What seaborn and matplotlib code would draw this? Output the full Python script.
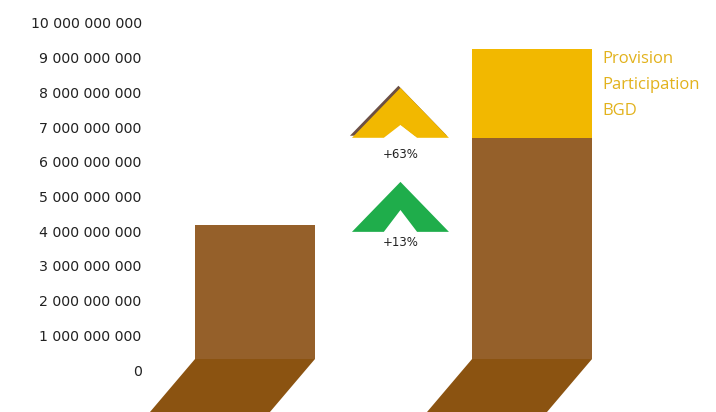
import matplotlib
matplotlib.use("Agg")
import matplotlib.pyplot as plt
import seaborn as sns
import pandas as pd
from matplotlib.patches import Polygon, Rectangle

# ---- data ----
categories = ["Avant", "Après"]
base_values = [4.18e9, 6.69e9]
provision_values = [0.0, 2.56e9]
tick_values = [i * 1e9 for i in range(11)]
tick_labels = ["0", "1 000 000 000", "2 000 000 000", "3 000 000 000", "4 000 000 000",
               "5 000 000 000", "6 000 000 000", "7 000 000 000", "8 000 000 000",
               "9 000 000 000", "10 000 000 000"]
growth_labels = ["+63%", "+13%"]
provision_label = "Provision\nParticipation\nBGD"

BROWN = "#95602a"
FLOOR = "#8b5311"
YELLOW = "#f2b800"
GREEN = "#1fad4b"
LABEL_YELLOW = "#e2b21c"

sns.set_theme(style="white")
plt.rcParams["font.family"] = ["DejaVu Sans"]

df = pd.DataFrame({"cat": categories,
                   "base": base_values,
                   "total": [b + p for b, p in zip(base_values, provision_values)]})

fig = plt.figure(figsize=(7.16, 4.12), dpi=100)
ax = fig.add_axes([150 / 716, 0, (716 - 150) / 716, 1])

sns.barplot(data=df, x="cat", y="total", color=YELLOW, width=0.433, ax=ax,
            saturation=1, order=categories)
sns.barplot(data=df, x="cat", y="base", color=BROWN, width=0.433, ax=ax,
            saturation=1, order=categories)

ax.set_xlim(-0.379, 1.664)
ax.set_ylim(-1.21e9, 10.66e9)
ax.set_yticks(tick_values)
ax.set_yticklabels(tick_labels, fontsize=10.2, color="#222222")
ax.tick_params(axis="y", length=0, pad=6)
ax.set_xticks([])
ax.set_xlabel("")
ax.set_ylabel("")
for s in ax.spines.values():
    s.set_visible(False)

px_x = 1 / 277.0          # data units per pixel (x)
px_y = 1e9 / 34.7         # data units per pixel (y)
top_px = 11
drop_px = 80
slope = 0.85

bar_patches = list(ax.patches)
for p in bar_patches:
    p.set_linewidth(0)
    clip = Rectangle((-5, top_px * px_y), 10, 50e9, transform=ax.transData)
    p.set_clip_path(clip)

# floor parallelograms under each bar (derived from bar geometry)
for p in bar_patches[len(categories):]:
    x0 = p.get_x()
    w = p.get_width()
    y0 = top_px * px_y
    y1 = y0 - drop_px * px_y
    dx = drop_px * slope * px_x
    poly = Polygon([(x0, y0), (x0 + w, y0), (x0 + w - dx, y1), (x0 - dx, y1)],
                   closed=True, facecolor=FLOOR, edgecolor="none", zorder=3)
    ax.add_patch(poly)


def chevron(xc, apex, bottom, notch, half_w, inner_half, color, zorder=4):
    pts = [(xc - half_w, bottom), (xc, apex), (xc + half_w, bottom),
           (xc + inner_half, bottom), (xc, notch), (xc - inner_half, bottom)]
    ax.add_patch(Polygon(pts, closed=True, facecolor=color, edgecolor="none", zorder=zorder))


xc = 0.525
# yellow chevron with shadow
chevron(xc - 2 * px_x, 8.19e9, 6.75e9, 7.12e9, 0.175, 0.06, "#6b4f45", zorder=4)
chevron(xc, 8.13e9, 6.69e9, 7.06e9, 0.175, 0.06, YELLOW, zorder=5)
ax.text(xc, 6.22e9, growth_labels[0], ha="center", va="center", fontsize=8.5,
        color="#222222")
# green chevron
chevron(xc, 5.42e9, 3.98e9, 4.61e9, 0.175, 0.06, GREEN, zorder=5)
ax.text(xc, 3.66e9, growth_labels[1], ha="center", va="center", fontsize=8.5,
        color="#222222")

# provision label
bar2 = bar_patches[1]
ax.text(bar2.get_x() + bar2.get_width() + 10 * px_x,
        provision_values[1] + base_values[1] - 0.05e9,
        provision_label, ha="left", va="top", fontsize=12, color=LABEL_YELLOW,
        family=["Open Sans", "DejaVu Sans"], linespacing=1.85)

fig.savefig("out.png", dpi=100)
